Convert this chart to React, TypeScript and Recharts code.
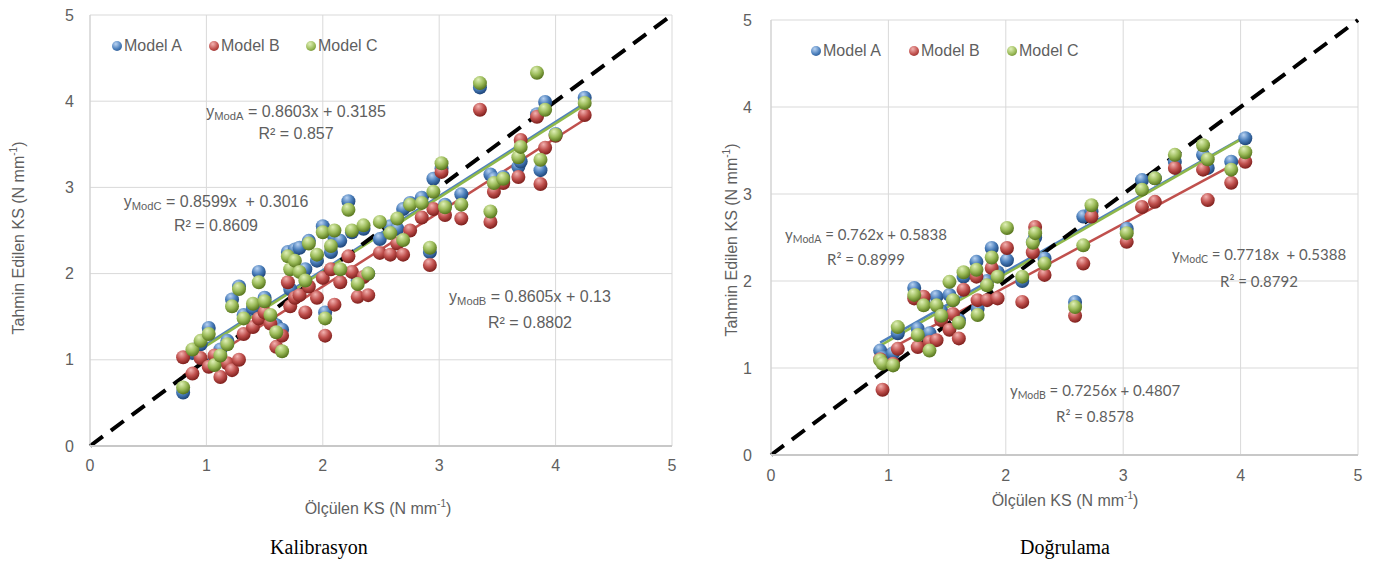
import React from 'react'
import { ScatterChart, Scatter, XAxis, YAxis, CartesianGrid, ReferenceLine } from 'recharts'

const axisTicks = [0, 1, 2, 3, 4, 5]
const modelNames = ['Model A', 'Model B', 'Model C']

// Kalibrasyon: measured KS and predicted KS per model
const calMeasured = [
  0.8, 0.88, 0.95, 1.02, 1.07, 1.12, 1.18, 1.22, 1.28, 1.32, 1.4, 1.45, 1.5, 1.55, 1.6, 1.65, 1.7, 1.72,
  1.76, 1.8, 1.85, 1.88, 1.95, 2.0, 2.02, 2.07, 2.1, 2.15, 2.22, 2.25, 2.3, 2.35, 2.39, 2.49, 2.58, 2.64,
  2.69, 2.75, 2.85, 2.92, 2.95, 3.02, 3.05, 3.19, 3.35, 3.44, 3.47, 3.55, 3.68, 3.7, 3.84, 3.87, 3.91, 4.0, 4.25,
]
const calModA = [
  0.62, 1.08, 1.18, 1.37, 1.0, 1.12, 1.22, 1.7, 1.85, 1.52, 1.6, 2.02, 1.72, 1.48, 1.4, 1.35, 2.25, 1.82,
  2.28, 2.3, 2.05, 2.38, 2.15, 2.55, 1.55, 2.25, 2.42, 2.38, 2.84, 2.48, 1.92, 2.52, 2.0, 2.4, 2.55, 2.52,
  2.75, 2.82, 2.88, 2.25, 3.1, 3.22, 2.8, 2.92, 4.16, 3.15, 3.1, 3.12, 3.24, 3.3, 3.85, 3.2, 3.99, 3.62, 4.04,
]
const calModB = [
  1.03, 0.84, 1.02, 0.92, 1.05, 0.8, 0.96, 0.88, 1.0, 1.3, 1.38, 1.48, 1.55, 1.42, 1.15, 1.28, 1.9, 1.62,
  1.72, 1.75, 1.55, 1.85, 1.72, 1.95, 1.28, 2.05, 1.64, 1.9, 2.2, 2.02, 1.73, 1.96, 1.75, 2.24, 2.22, 2.35,
  2.22, 2.5, 2.65, 2.1, 2.75, 3.18, 2.68, 2.64, 3.9, 2.6, 2.95, 3.05, 3.12, 3.55, 3.82, 3.04, 3.46, 3.6, 3.84,
]
const calModC = [
  0.68, 1.12, 1.22, 1.3, 0.94, 1.05, 1.18, 1.62, 1.82, 1.48, 1.65, 1.9, 1.68, 1.52, 1.32, 1.1, 2.2, 2.05,
  2.15, 2.02, 1.92, 2.35, 2.22, 2.48, 1.48, 2.32, 2.5, 2.05, 2.74, 2.5, 1.88, 2.56, 2.0, 2.6, 2.47, 2.64,
  2.39, 2.8, 2.82, 2.3, 2.95, 3.28, 2.77, 2.8, 4.21, 2.72, 3.05, 3.1, 3.35, 3.47, 4.33, 3.32, 3.9, 3.61, 3.98,
]
const calSlopes = [0.8603, 0.8605, 0.8599]
const calIntercepts = [0.3185, 0.13, 0.3016]
const calEquations = ['= 0.8603x + 0.3185', '= 0.8605x + 0.13', '= 0.8599x  + 0.3016']
const calR2 = ['R² = 0.857', 'R² = 0.8802', 'R² = 0.8609']

// Doğrulama
const valMeasured = [
  0.93, 0.95, 1.04, 1.08, 1.22, 1.25, 1.3, 1.35, 1.41, 1.45, 1.52, 1.55, 1.6, 1.64, 1.75, 1.76, 1.84, 1.88,
  1.93, 2.01, 2.14, 2.23, 2.25, 2.33, 2.59, 2.66, 2.73, 3.03, 3.16, 3.27, 3.44, 3.68, 3.72, 3.92, 4.04,
]
const valModA = [
  1.2, 1.12, 1.17, 1.4, 1.92, 1.45, 1.75, 1.4, 1.82, 1.65, 1.84, 1.78, 1.55, 2.05, 2.22, 1.68, 2.0, 2.38,
  2.1, 2.24, 2.0, 2.45, 2.5, 2.26, 1.76, 2.74, 2.8, 2.6, 3.16, 3.18, 3.37, 3.45, 3.3, 3.37, 3.64,
]
const valModB = [
  1.1, 0.75, 1.05, 1.22, 1.8, 1.24, 1.82, 1.3, 1.32, 1.55, 1.44, 1.62, 1.34, 1.9, 2.05, 1.78, 1.78, 2.15,
  1.8, 2.38, 1.76, 2.33, 2.62, 2.07, 1.6, 2.2, 2.74, 2.45, 2.85, 2.91, 3.3, 3.28, 2.93, 3.13, 3.37,
]
const valModC = [
  1.09, 1.05, 1.03, 1.47, 1.84, 1.38, 1.72, 1.2, 1.72, 1.6, 1.99, 1.78, 1.52, 2.1, 2.13, 1.61, 1.95, 2.27,
  2.05, 2.61, 2.05, 2.44, 2.55, 2.2, 1.7, 2.41, 2.87, 2.55, 3.05, 3.18, 3.45, 3.56, 3.4, 3.28, 3.48,
]
const valSlopes = [0.762, 0.7256, 0.7718]
const valIntercepts = [0.5838, 0.4807, 0.5388]
const valEquations = ['= 0.762x + 0.5838', '= 0.7256x + 0.4807', '= 0.7718x  + 0.5388']
const valR2 = ['R² = 0.8999', 'R² = 0.8578', 'R² = 0.8792']

const subs = ['ModA', 'ModB', 'ModC']
const colors = [
  { base: '#4a7ebb', light: '#b9d3f2', dark: '#1d4478', line: '#4f81bd' },
  { base: '#c0504d', light: '#f3b3b1', dark: '#7e1f1c', line: '#c0504d' },
  { base: '#9bbb59', light: '#e0f0b8', dark: '#56741c', line: '#8fb84a' },
]

const gray = '#5f5f5f'

function Panel(props: {
  id: string
  width: number
  height: number
  margin: { top: number; right: number; left: number; bottom: number }
  yWidth: number
  xHeight: number
  xTickMargin: number
  yTickMargin: number
  measured: number[]
  series: number[][]
  slopes: number[]
  intercepts: number[]
}) {
  const { id, measured, series, slopes, intercepts } = props
  const lo = Math.min(...measured)
  const hi = Math.max(...measured)
  const tickStyle = { fill: gray, fontSize: 16, fontFamily: 'Liberation Sans, Arial, sans-serif' }
  return (
    <ScatterChart width={props.width} height={props.height} margin={props.margin}>
      <defs>
        {colors.map((c, i) => (
          <radialGradient key={i} id={`${id}-ball${i}`} cx="40%" cy="32%" r="68%" fx="38%" fy="25%">
            <stop offset="0%" stopColor={c.light} />
            <stop offset="55%" stopColor={c.base} />
            <stop offset="100%" stopColor={c.dark} />
          </radialGradient>
        ))}
      </defs>
      <CartesianGrid stroke="#d9d9d9" strokeWidth={1} />
      <XAxis
        type="number"
        dataKey="x"
        domain={[0, 5]}
        ticks={axisTicks}
        height={props.xHeight}
        tickLine={false}
        tickMargin={props.xTickMargin}
        axisLine={{ stroke: '#c8c8c8', strokeWidth: 2 }}
        tick={tickStyle}
      />
      <YAxis
        type="number"
        dataKey="y"
        domain={[0, 5]}
        ticks={axisTicks}
        width={props.yWidth}
        tickLine={false}
        tickMargin={props.yTickMargin}
        axisLine={{ stroke: '#d0d0d0', strokeWidth: 1 }}
        tick={tickStyle}
      />
      {series.map((vals, i) => (
        <Scatter
          key={i}
          name={modelNames[i]}
          data={measured.map((x, k) => ({ x, y: vals[k] }))}
          isAnimationActive={false}
          shape={(p: any) => <circle cx={p.cx} cy={p.cy} r={7} fill={`url(#${id}-ball${i})`} />}
        />
      ))}
      {slopes.map((s, i) => (
        <ReferenceLine
          key={i}
          segment={[
            { x: lo, y: s * lo + intercepts[i] },
            { x: hi, y: s * hi + intercepts[i] },
          ]}
          stroke={colors[i].line}
          strokeWidth={2.5}
        />
      ))}
      <ReferenceLine
        segment={[
          { x: 0, y: 0 },
          { x: 5, y: 5 },
        ]}
        stroke="#000"
        strokeWidth={4}
        strokeDasharray="16 10"
      />
    </ScatterChart>
  )
}

function Legend({ left, top, gap }: { left: number; top: number; gap: number }) {
  return (
    <div style={{ position: 'absolute', left, top, display: 'flex', fontFamily: 'Liberation Sans, Arial, sans-serif', fontSize: 16, color: gray }}>
      {modelNames.map((n, i) => (
        <div key={n} style={{ display: 'flex', alignItems: 'center', width: gap }}>
          <span
            style={{
              width: 10,
              height: 10,
              borderRadius: '50%',
              marginRight: 2,
              background: `radial-gradient(circle at 38% 30%, ${colors[i].light}, ${colors[i].base} 55%, ${colors[i].dark})`,
            }}
          />
          {n}
        </div>
      ))}
    </div>
  )
}

function Eq(props: { x: number; y: number; sub: string; eq: string; r2: string; font: string; size: number; gap: number }) {
  return (
    <div
      style={{
        position: 'absolute',
        left: props.x,
        top: props.y,
        transform: 'translate(-50%, -50%)',
        textAlign: 'center',
        whiteSpace: 'pre',
        fontFamily: props.font,
        fontSize: props.size,
        color: gray,
        lineHeight: `${props.gap}px`,
      }}
    >
      <div>
        y<span style={{ fontSize: props.size * 0.7, verticalAlign: -3 }}>{props.sub}</span> {props.eq}
      </div>
      <div>{props.r2}</div>
    </div>
  )
}

function Title({ x, y, rotate, children }: { x: number; y: number; rotate?: boolean; children: React.ReactNode }) {
  return (
    <div
      style={{
        position: 'absolute',
        left: x,
        top: y,
        transform: `translate(-50%, -50%)${rotate ? ' rotate(-90deg)' : ''}`,
        whiteSpace: 'nowrap',
        fontFamily: 'Liberation Sans, Arial, sans-serif',
        fontSize: 16,
        color: gray,
      }}
    >
      {children}
    </div>
  )
}

const unit = (
  <>
    (N mm<sup style={{ fontSize: 10 }}>-1</sup>)
  </>
)

export default function App() {
  const sans = 'Liberation Sans, Arial, sans-serif'
  const cal = 'Lato, sans-serif'
  return (
    <div style={{ position: 'absolute', left: 0, top: 0, width: 1375, height: 563, background: '#fff', overflow: 'hidden' }}>
      <div style={{ position: 'absolute', left: 0, top: 0 }}>
        <Panel
          id="cal"
          width={690}
          height={494}
          margin={{ top: 15, right: 18, left: 30, bottom: 24 }}
          yWidth={60}
          xHeight={24}
          xTickMargin={8}
          yTickMargin={10}
          measured={calMeasured}
          series={[calModA, calModB, calModC]}
          slopes={calSlopes}
          intercepts={calIntercepts}
        />
      </div>
      <div style={{ position: 'absolute', left: 700, top: 0 }}>
        <Panel
          id="val"
          width={675}
          height={504}
          margin={{ top: 20, right: 17, left: 21, bottom: 24 }}
          yWidth={50}
          xHeight={25}
          xTickMargin={9}
          yTickMargin={13}
          measured={valMeasured}
          series={[valModA, valModB, valModC]}
          slopes={valSlopes}
          intercepts={valIntercepts}
        />
      </div>

      <Legend left={112} top={37} gap={97} />
      <Legend left={811} top={42} gap={98} />

      <Eq x={296} y={123} sub={subs[0]} eq={calEquations[0]} r2={calR2[0]} font={sans} size={16} gap={18} />
      <Eq x={216} y={213} sub={subs[2]} eq={calEquations[2]} r2={calR2[2]} font={sans} size={16} gap={19} />
      <Eq x={530} y={309} sub={subs[1]} eq={calEquations[1]} r2={calR2[1]} font={sans} size={16} gap={21} />

      <Eq x={866} y={246} sub={subs[0]} eq={valEquations[0]} r2={valR2[0]} font={cal} size={15} gap={20} />
      <Eq x={1095} y={403} sub={subs[1]} eq={valEquations[1]} r2={valR2[1]} font={cal} size={15} gap={21} />
      <Eq x={1259} y={267} sub={subs[2]} eq={valEquations[2]} r2={valR2[2]} font={cal} size={15} gap={22} />

      <Title x={18} y={238} rotate>
        Tahmin Edilen KS {unit}
      </Title>
      <Title x={731} y={240} rotate>
        Tahmin Edilen KS {unit}
      </Title>
      <Title x={378} y={508}>Ölçülen KS {unit}</Title>
      <Title x={1065} y={500}>Ölçülen KS {unit}</Title>

      <div style={{ position: 'absolute', left: 319, top: 547, transform: 'translate(-50%, -50%)', fontFamily: 'Liberation Serif, serif', fontSize: 20 }}>
        Kalibrasyon
      </div>
      <div style={{ position: 'absolute', left: 1065, top: 547, transform: 'translate(-50%, -50%)', fontFamily: 'Liberation Serif, serif', fontSize: 20 }}>
        Doğrulama
      </div>
    </div>
  )
}
